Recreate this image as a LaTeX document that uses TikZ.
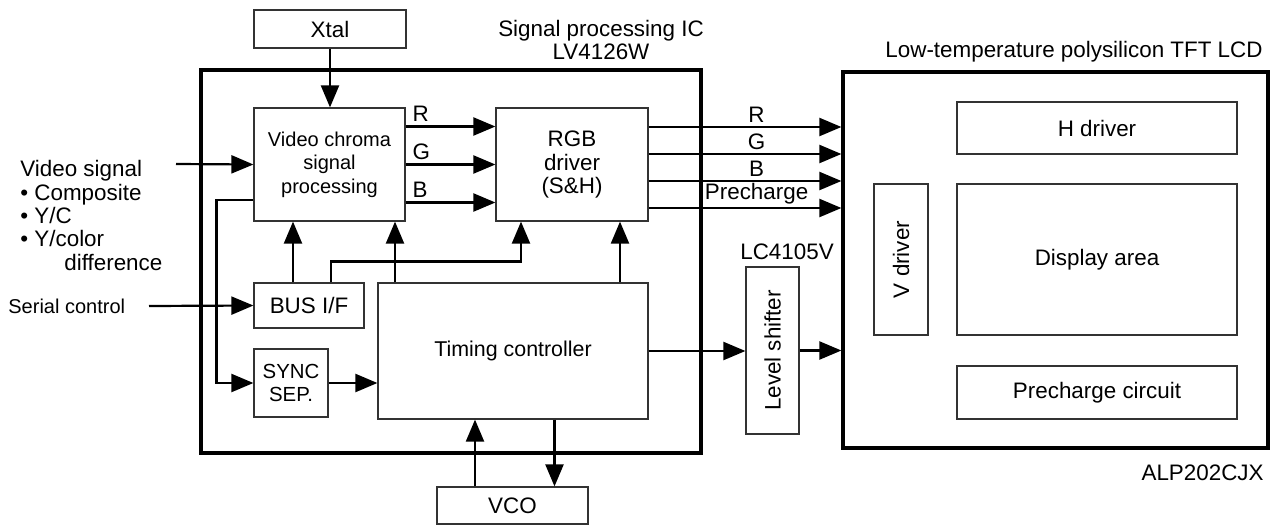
\documentclass[tikz,border=0pt]{standalone}
\usepackage{fontspec}
\setmainfont{Liberation Sans}
\usetikzlibrary{positioning,arrows.meta,calc}

\begin{document}
\begin{tikzpicture}[x=0.5pt, y=-0.5pt,
  font=\fontsize{11.2}{11.7}\selectfont,
  blk/.style={draw=black!80, line width=0.6pt, inner sep=1pt, align=center},
  sig/.style={line width=1.1pt, -{Triangle[length=11pt,width=9pt]}},
  lbl/.style={inner sep=0pt}]
\useasboundingbox (0,0) rectangle (1274,525);
% IC and LCD outlines
\node[draw, line width=1.6pt, minimum width=250pt, minimum height=191.5pt] (ic) at (451,261.5) {};
\node[draw, line width=1.6pt, minimum width=212.5pt, minimum height=188pt] (lcd) at (1055.5,260) {};
\node[lbl, align=center] at (601,40) {Signal processing IC\\LV4126W};
\node[lbl, anchor=east] at (1263,52) {Low-temperature polysilicon TFT LCD};
\node[lbl, anchor=east] at (1264,473) {ALP202CJX};
\node[lbl] at (787,252) {LC4105V};
% blocks
\node[blk, minimum width=76pt, minimum height=19pt] (xtal) at (330,29) {Xtal};
\node[blk, minimum width=75.5pt, minimum height=56.5pt, font=\fontsize{10}{11.7}\selectfont] (vcp) at (329.5,164.5) {Video chroma\\signal\\processing};
\node[blk, minimum width=76pt, minimum height=56.5pt] (rgb) at (572,164.5) {RGB\\driver\\(S\&H)};
\node[blk, minimum width=55pt, minimum height=22.5pt] (bus) at (309,305.5) {BUS I/F};
\node[blk, minimum width=37pt, minimum height=34pt, font=\fontsize{10.2}{11.5}\selectfont] (sync) at (291,383) {SYNC\\SEP.};
\node[blk, minimum width=135pt, minimum height=68pt, font=\fontsize{10.7}{12}\selectfont] (timing) at (513,351) {Timing controller};
\node[blk, minimum width=75.5pt, minimum height=18.5pt] (vco) at (512.5,505.5) {VCO};
\node[blk, minimum width=26.5pt, minimum height=83.5pt] (lvl) at (772.5,350.5) {\rotatebox{90}{Level shifter}};
\node[blk, minimum width=140pt, minimum height=26pt] (hdrv) at (1097,128) {H driver};
\node[blk, minimum width=140pt, minimum height=75.5pt] (disp) at (1097,259.5) {Display area};
\node[blk, minimum width=140pt, minimum height=26.5pt] (pre) at (1097,392.5) {Precharge circuit};
\node[blk, minimum width=27pt, minimum height=75.5pt] (vdrv) at (901,259.5) {\rotatebox{90}{V driver}};
% inputs
\node[lbl, anchor=north west, align=left] (vin) at (20,160) {Video signal\\\textbullet\ Composite\\\textbullet\ Y/C\\\textbullet\ Y/color\\\hspace*{22pt}difference};
\coordinate (vsrc) at (176,164);
\draw[sig] (vsrc) -- (vcp.west);
\node[lbl, anchor=west, font=\fontsize{10}{12}\selectfont] (ser) at (8,306) {Serial control};
\coordinate (ssrc) at (149,306);
\draw[sig] (ssrc) -- (bus.west);
\draw[sig] (xtal.south) -- (xtal.south |- vcp.north);
% video chroma -> RGB driver
\foreach \s/\c in {19pt/R, 0pt/G, -19pt/B}
  \draw[sig] ([yshift=\s]vcp.east) -- ([yshift=\s]rgb.west)
    node[lbl, pos=0, above right, xshift=3pt, yshift=2pt] {\c};
% RGB driver -> LCD
\foreach \s/\c in {18.75pt/R, 5.25pt/G, -8.25pt/B, -21.75pt/Precharge}
  \draw[sig] ([yshift=\s]rgb.east) coordinate (o) -- (o -| lcd.west)
    node[lbl, pos=0.56, above, yshift=1.5pt] {\c};
% control paths
\draw[sig] ([yshift=-17.75pt]vcp.west) -- ++(-37,0) |- (sync.west);
\draw[sig] ([xshift=-8pt]bus.north) coordinate (b1) -- (b1 |- vcp.south);
\draw[sig] ([xshift=11pt]bus.north) -- ++(0,-21) -| ([xshift=-25.5pt]rgb.south);
\draw[sig] ([xshift=-59pt]timing.north) coordinate (t1) -- (t1 |- vcp.south);
\draw[sig] ([xshift=53.5pt]timing.north) coordinate (t2) -- (t2 |- rgb.south);
\draw[sig] (sync.east) -- (sync.east -| timing.west);
\draw[sig] (timing.east) -- (timing.east -| lvl.west);
\draw[sig] (lvl.east) -- (lvl.east -| lcd.west);
\draw[sig] ([xshift=-18.75pt]vco.north) coordinate (v1) -- (v1 |- timing.south);
\draw[sig] ([xshift=20.75pt]timing.south) coordinate (v2) -- (v2 |- vco.north);
\end{tikzpicture}
\end{document}
